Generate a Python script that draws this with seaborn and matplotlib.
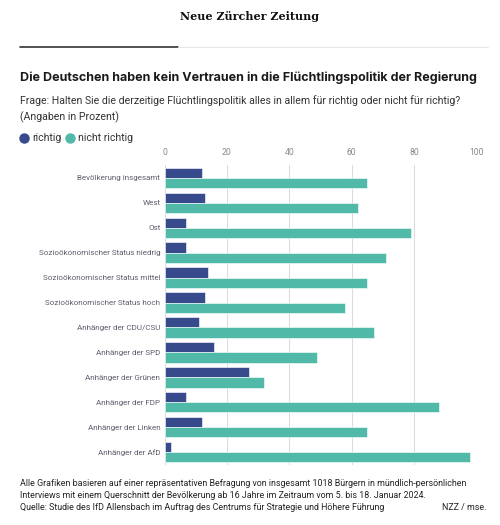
import matplotlib
matplotlib.use("Agg")
import matplotlib.pyplot as plt
import seaborn as sns
import pandas as pd
from matplotlib.lines import Line2D

categories = [
    "Bevölkerung insgesamt", "West", "Ost",
    "Sozioökonomischer Status niedrig", "Sozioökonomischer Status mittel",
    "Sozioökonomischer Status hoch", "Anhänger der CDU/CSU", "Anhänger der SPD",
    "Anhänger der Grünen", "Anhänger der FDP", "Anhänger der Linken", "Anhänger der AfD",
]
richtig = [12, 13, 7, 7, 14, 13, 11, 16, 27, 7, 12, 2]
nicht_richtig = [65, 62, 79, 71, 65, 58, 67, 49, 32, 88, 65, 98]
series_names = ["richtig", "nicht richtig"]
xticks = [0, 20, 40, 60, 80, 100]

colors = ["#364a8c", "#50b9a8"]

df = pd.DataFrame({
    "Kategorie": categories * 2,
    "Wert": richtig + nicht_richtig,
    "Antwort": [series_names[0]] * len(categories) + [series_names[1]] * len(categories),
})

sns.set_theme(style="white")
plt.rcParams["font.family"] = ["Roboto", "DejaVu Sans"]

fig = plt.figure(figsize=(5, 5.25), dpi=100)
ax = fig.add_axes([0.329, 0.1152, 0.624, 0.5696])

sns.barplot(data=df, y="Kategorie", x="Wert", hue="Antwort", order=categories,
            hue_order=series_names, palette=colors, orient="h", width=0.82,
            ax=ax, legend=False, saturation=1, edgecolor="white", linewidth=0.4)

ax.set_xlim(0, 100)
ax.set_xticks(xticks)
ax.xaxis.tick_top()
ax.tick_params(axis="x", length=0, labelsize=6.2, colors="#8a8a8a", pad=6)
ax.tick_params(axis="y", length=0, labelsize=5.8, colors="#5f5f6e", pad=3)
ax.set_xlabel("")
ax.set_ylabel("")
ax.grid(axis="x", color="#dcdcdc", linewidth=0.8)
ax.set_axisbelow(True)
for s in ax.spines.values():
    s.set_visible(False)

# Header
fig.text(0.5, 1 - 17 / 525, "Neue Zürcher Zeitung", ha="center", va="center",
         fontsize=8, family=["DejaVu Serif"], fontweight="bold", color="#111111")
fig.add_artist(Line2D([20 / 500, 178 / 500], [1 - 47 / 525] * 2, color="#333333", linewidth=1.2))
fig.add_artist(Line2D([178 / 500, 488 / 500], [1 - 47 / 525] * 2, color="#e6e6e6", linewidth=0.8))

fig.text(20 / 500, 1 - 78 / 525, "Die Deutschen haben kein Vertrauen in die Flüchtlingspolitik der Regierung",
         ha="left", va="center", fontsize=9.0, fontweight="bold", family=["Inter", "DejaVu Sans"],
         color="#1a1a1a")
fig.text(20 / 500, 1 - 101 / 525,
         "Frage: Halten Sie die derzeitige Flüchtlingspolitik alles in allem für richtig oder nicht für richtig?",
         ha="left", va="center", fontsize=7.6, color="#333333")
fig.text(20 / 500, 1 - 117 / 525, "(Angaben in Prozent)", ha="left", va="center",
         fontsize=7.6, color="#333333")

# Legend
leg_y = 1 - 138 / 525
fig.add_artist(Line2D([24 / 500], [leg_y], marker="o", markersize=6.5, color=colors[0], linestyle=""))
fig.text(32 / 500, leg_y, series_names[0], ha="left", va="center", fontsize=7.6, color="#333333")
fig.add_artist(Line2D([70 / 500], [leg_y], marker="o", markersize=6.5, color=colors[1], linestyle=""))
fig.text(78 / 500, leg_y, series_names[1], ha="left", va="center", fontsize=7.6, color="#333333")

# Footer
foot = [
    "Alle Grafiken basieren auf einer repräsentativen Befragung von insgesamt 1018 Bürgern in mündlich-persönlichen",
    "Interviews mit einem Querschnitt der Bevölkerung ab 16 Jahre im Zeitraum vom 5. bis 18. Januar 2024.",
    "Quelle: Studie des IfD Allensbach im Auftrag des Centrums für Strategie und Höhere Führung",
]
for i, t in enumerate(foot):
    fig.text(20 / 500, 1 - (484 + 12 * i) / 525, t, ha="left", va="center", fontsize=6.4, color="#222222")
fig.text(487 / 500, 1 - 508 / 525, "NZZ / mse.", ha="right", va="center", fontsize=6.4, color="#222222")

fig.savefig("out.png", dpi=100, facecolor="white")
